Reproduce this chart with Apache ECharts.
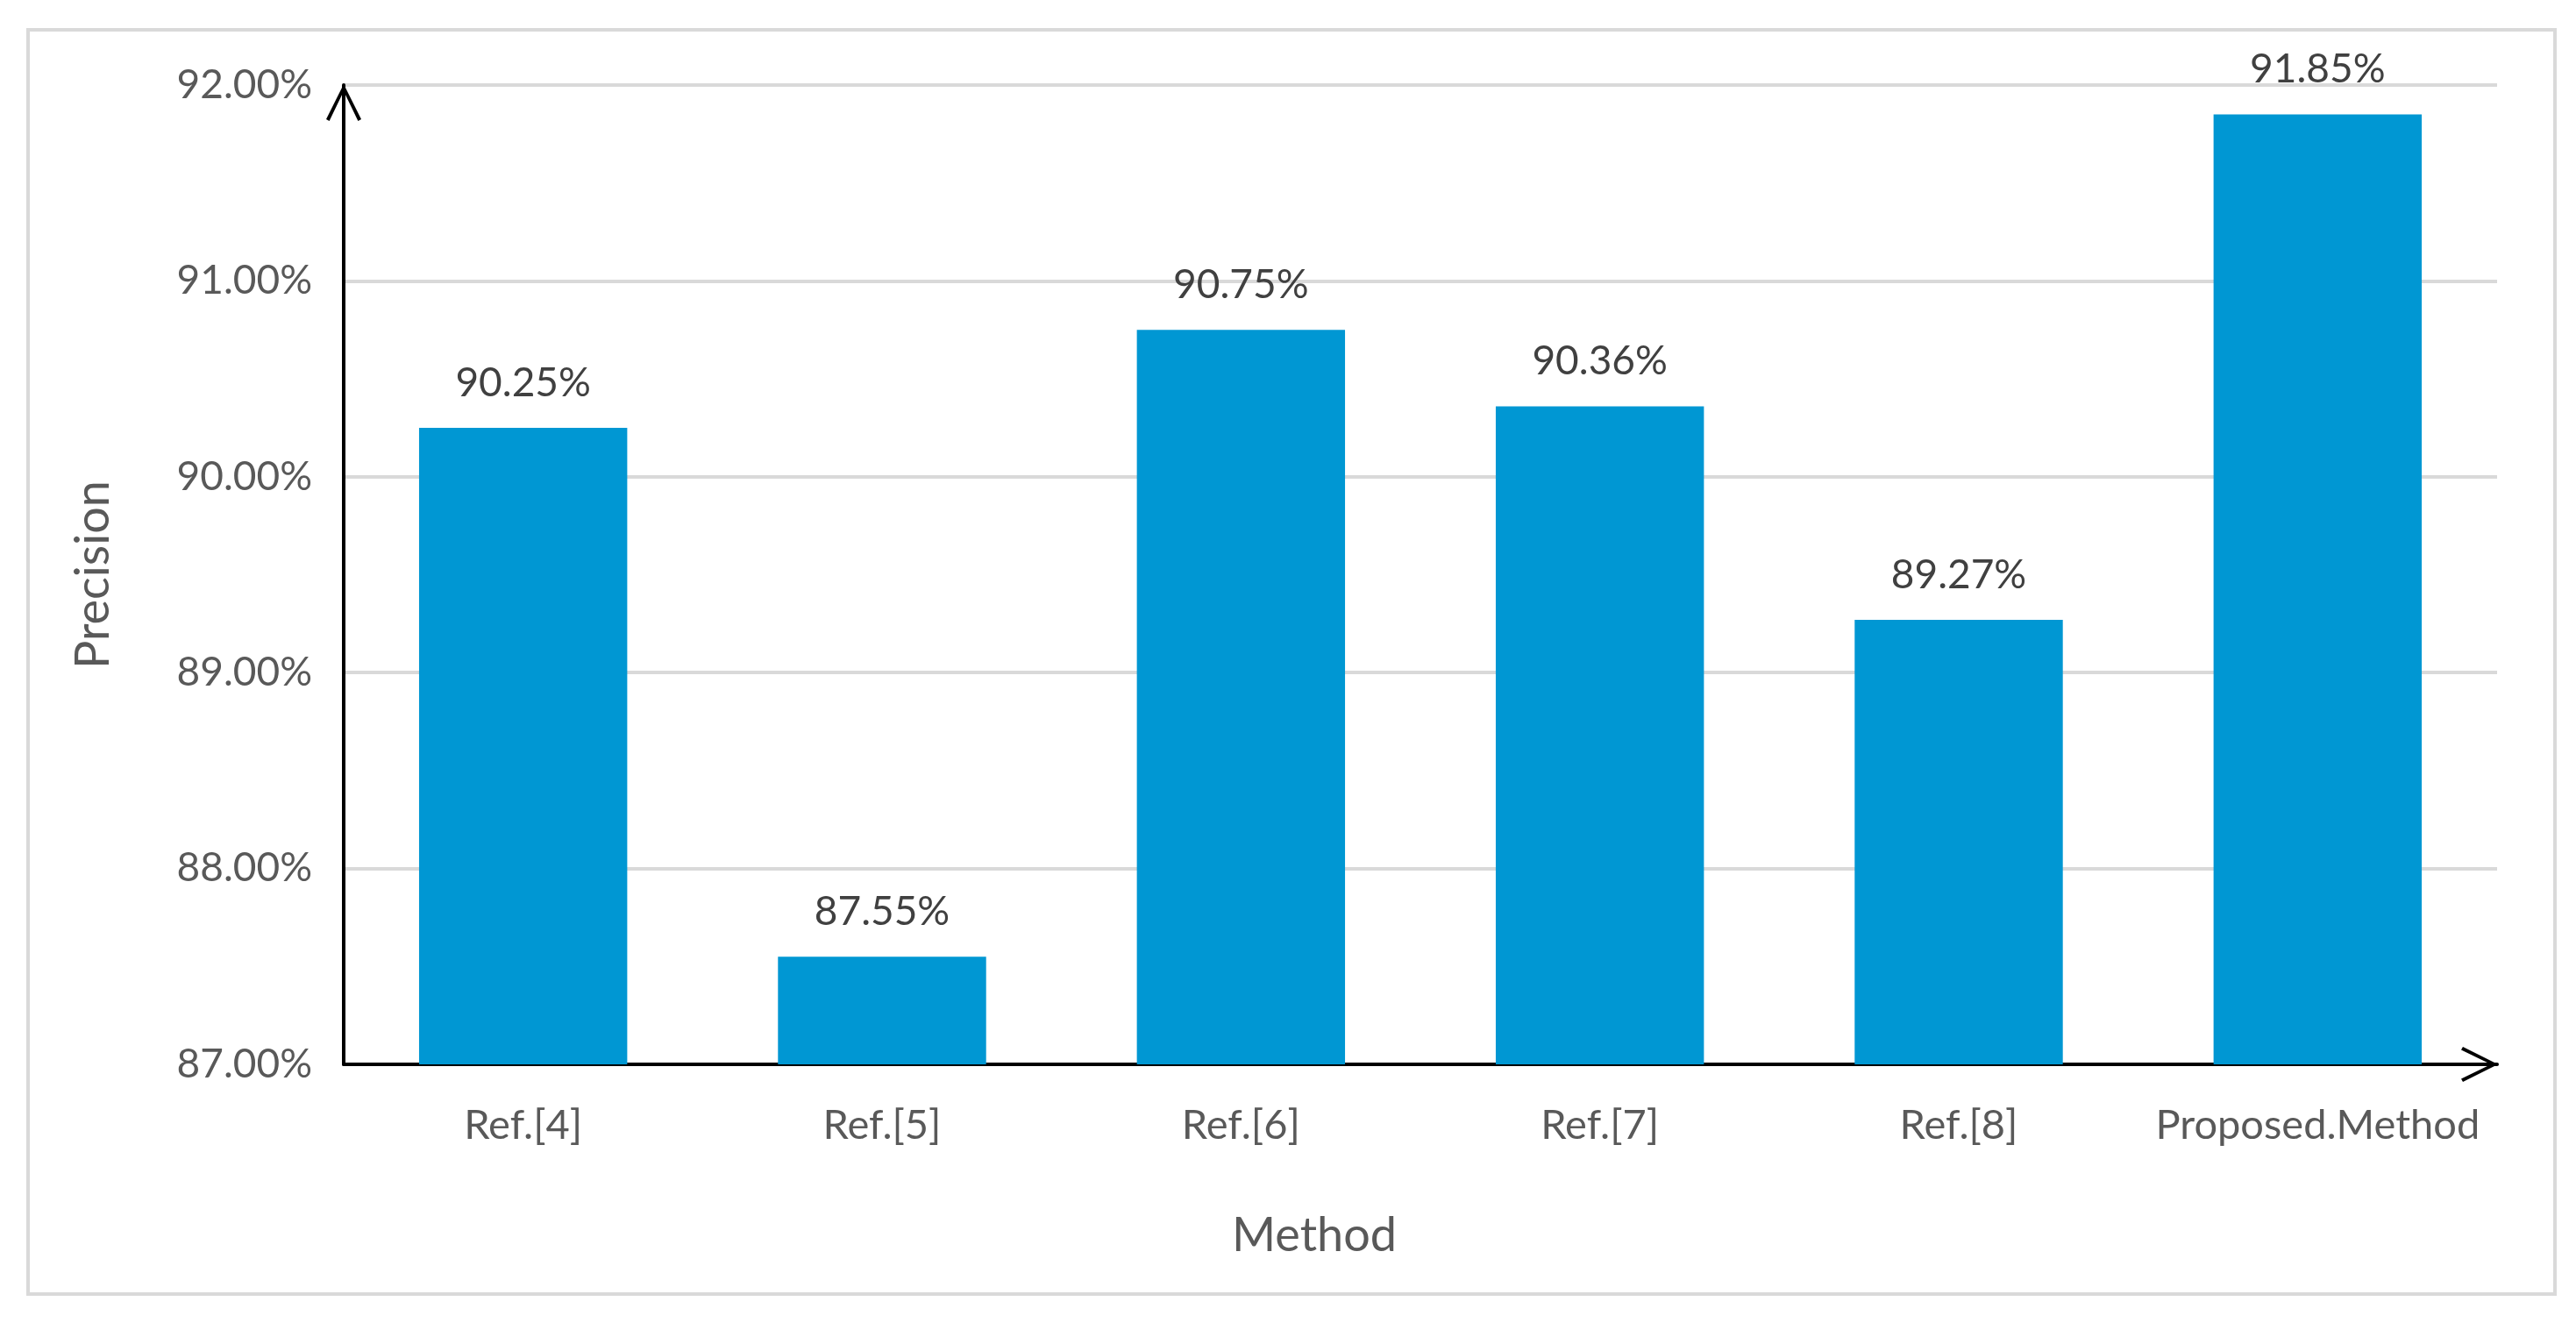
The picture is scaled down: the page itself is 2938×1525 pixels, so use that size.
<!DOCTYPE html>
<html><head><meta charset="utf-8">
<style>html,body{margin:0;padding:0;background:#fff}#c{width:2938px;height:1525px}</style>
<script src="https://cdn.jsdelivr.net/npm/echarts@6/dist/echarts.min.js"></script>
</head><body><div id="c"></div>
<script>
const categories = ['Ref.[4]', 'Ref.[5]', 'Ref.[6]', 'Ref.[7]', 'Ref.[8]', 'Proposed.Method'];
const precision = [90.25, 87.55, 90.75, 90.36, 89.27, 91.85];
const yMin = 87, yMax = 92, yStep = 1;

const chart = echarts.init(document.getElementById('c'));
const font = 'Lato, "Open Sans", sans-serif';
const txt = '#595959';
const chevron = 'path://M0,20 L10,0 L20,20 L18.2,21 L10,4 L1.8,21 Z';
chart.setOption({
  animation: false,
  backgroundColor: '#fff',
  textStyle: { fontFamily: font },
  graphic: [{
    type: 'rect', shape: { x: 32, y: 34, width: 2882, height: 1442 },
    style: { fill: 'none', stroke: '#d9d9d9', lineWidth: 4 }
  }],
  title: {
    text: 'Method', left: 1494, top: 1378, textAlign: 'center',
    textStyle: { fontFamily: font, fontSize: 54, fontWeight: 'normal', color: txt }
  },
  grid: { left: 392, right: 90, top: 97, bottom: 311, containLabel: false },
  xAxis: {
    type: 'category', data: categories,
    axisLine: { show: true, symbol: ['none', chevron], symbolSize: [40, 42], symbolOffset: [0, -20], lineStyle: { color: '#000', width: 4 } },
    axisTick: { show: false },
    axisLabel: { color: txt, fontSize: 47, margin: 46, fontFamily: font, interval: 0 }
  },
  yAxis: {
    type: 'value', min: yMin, max: yMax, interval: yStep,
    name: 'Precision', nameLocation: 'middle', nameGap: 258,
    nameTextStyle: { color: txt, fontSize: 54, fontFamily: font },
    axisLine: { show: true, symbol: ['none', chevron], symbolSize: [40, 42], symbolOffset: [0, -20], lineStyle: { color: '#000', width: 4 } },
    axisTick: { show: false },
    axisLabel: { color: txt, fontSize: 46, margin: 36, fontFamily: font, formatter: v => v.toFixed(2) + '%' },
    splitLine: { show: true, lineStyle: { color: '#d9d9d9', width: 4 } }
  },
  series: [{
    type: 'bar', data: precision, barWidth: '58%',
    itemStyle: { color: '#0097d3' },
    label: { show: true, position: 'top', distance: 28, color: '#404040', fontSize: 46, fontFamily: font,
      formatter: p => p.value.toFixed(2) + '%' }
  }]
});
</script></body></html>
